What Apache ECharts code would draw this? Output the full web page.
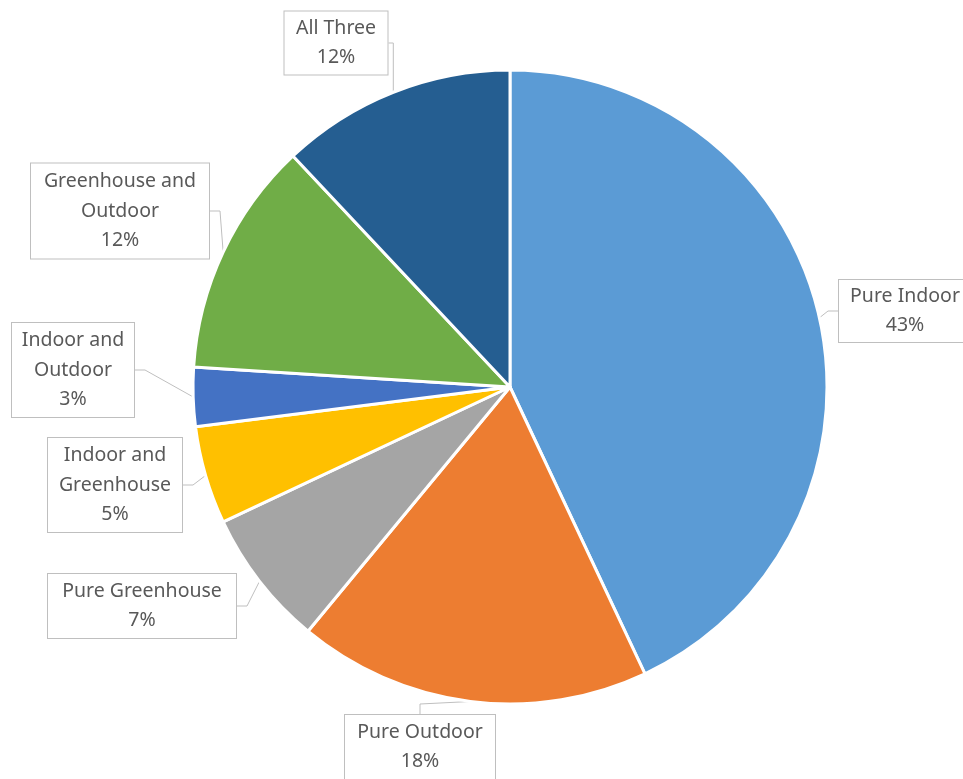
<!DOCTYPE html>
<html>
<head>
<meta charset="utf-8">
<style>
  html, body { margin: 0; padding: 0; background: #ffffff; }
  #chart { width: 963px; height: 779px; }
</style>
<script src="https://cdn.jsdelivr.net/npm/echarts@6/dist/echarts.min.js"></script>
</head>
<body>
<div id="chart"></div>
<script>
// Growing environments, clockwise from 12 o'clock
const categories = ['Pure Indoor', 'Pure Outdoor', 'Pure Greenhouse', 'Indoor and Greenhouse',
                    'Indoor and Outdoor', 'Greenhouse and Outdoor', 'All Three'];
const shares = [43, 18, 7, 5, 3, 12, 12];
// Label text with the line breaks used in the callouts
const labelNames = ['Pure Indoor', 'Pure Outdoor', 'Pure Greenhouse', 'Indoor and\nGreenhouse',
                    'Indoor and\nOutdoor', 'Greenhouse and\nOutdoor', 'All Three'];
const colors = ['#5B9BD5', '#ED7D31', '#A5A5A5', '#FFC000', '#4472C4', '#70AD47', '#255E91'];

// Callout boxes: centre and size in pixels
const callouts = [
  { cx: 905, cy: 311, w: 134, h: 64 },
  { cx: 420, cy: 747, w: 152, h: 66 },
  { cx: 142, cy: 606, w: 190, h: 66 },
  { cx: 115, cy: 485, w: 136, h: 96 },
  { cx: 73,  cy: 370, w: 124, h: 96 },
  { cx: 120, cy: 211, w: 180, h: 97 },
  { cx: 336, cy: 43,  w: 105, h: 65 }
];

const chart = echarts.init(document.getElementById('chart'), null, { renderer: 'canvas' });

const data = categories.map((name, i) => ({
  name: name,
  value: shares[i],
  itemStyle: { color: colors[i] },
  label: { width: callouts[i].w - 2, height: callouts[i].h - 2 }
}));

chart.setOption({
  animation: false,
  series: [{
    type: 'pie',
    center: [510, 387],
    radius: 317,
    startAngle: 90,
    clockwise: true,
    data: data,
    itemStyle: { borderColor: '#ffffff', borderWidth: 3 },
    label: {
      show: true,
      position: 'outside',
      formatter: p => labelNames[p.dataIndex] + '\n' + p.value + '%',
      fontFamily: 'Noto Sans',
      fontSize: 19.5,
      lineHeight: 29.5,
      color: '#595959',
      align: 'center',
      verticalAlign: 'middle',
      backgroundColor: '#ffffff',
      borderColor: '#bfbfbf',
      borderWidth: 1
    },
    labelLine: {
      show: true,
      length: 10,
      length2: 10,
      lineStyle: { color: '#bfbfbf', width: 1 }
    },
    labelLayout: p => {
      const c = callouts[p.dataIndex];
      return { x: c.cx, y: c.cy, align: 'center', verticalAlign: 'middle' };
    }
  }]
});
</script>
</body>
</html>
